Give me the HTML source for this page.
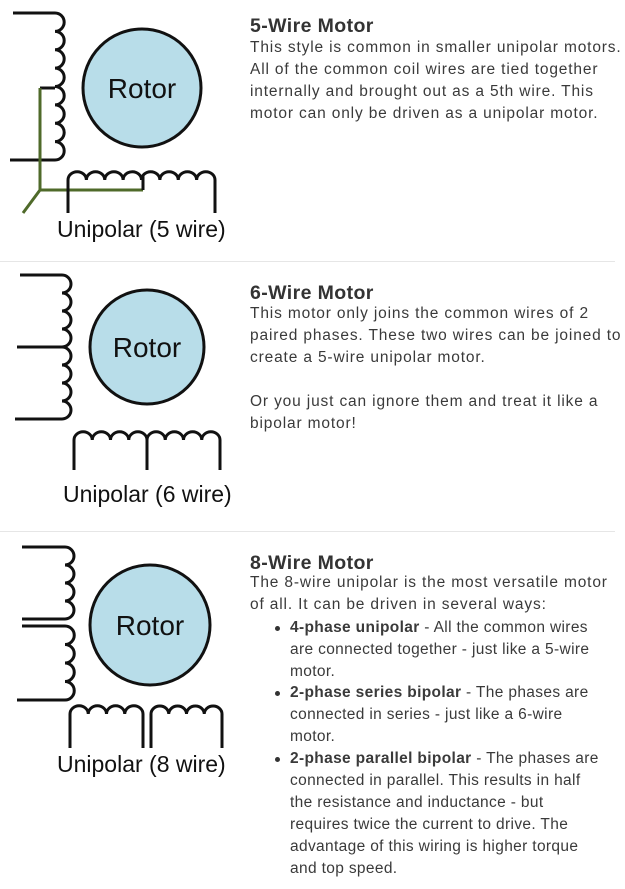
<!DOCTYPE html>
<html><head><meta charset="utf-8">
<style>
html,body{margin:0;padding:0;background:#fff;width:625px;height:889px;overflow:hidden;position:relative}
.t{position:absolute;left:250px;font-family:"Liberation Sans",sans-serif;color:#3a3a3a;white-space:nowrap}
.h{font-size:19.5px;font-weight:bold;color:#333;line-height:22px;letter-spacing:0.4px}
.p{font-size:15.5px;line-height:22px;letter-spacing:0.85px}
.li{position:absolute;left:290px;font-family:"Liberation Sans",sans-serif;color:#3a3a3a;font-size:15.5px;line-height:22px;letter-spacing:0.35px;white-space:nowrap}
.li:before{content:"";position:absolute;left:-15px;top:9px;width:5px;height:5px;border-radius:50%;background:#333}
.sep{position:absolute;left:0;width:615px;height:1px;background:#e6e6e6}
svg{position:absolute;left:0;top:0}
</style></head><body>
<svg id="dg" width="625" height="889">
 <g id="wires" fill="none" stroke="#111" stroke-width="3" stroke-linecap="butt"></g>
</svg>

<div class="sep" style="top:261px"></div>
<div class="sep" style="top:531px"></div>

<div class="t h" style="top:15px">5-Wire Motor</div>
<div class="t p" style="top:37px">This style is common in smaller unipolar motors.<br>All of the common coil wires are tied together<br>internally and brought out as a 5th wire. This<br>motor can only be driven as a unipolar motor.</div>

<div class="t h" style="top:282px">6-Wire Motor</div>
<div class="t p" style="top:303px">This motor only joins the common wires of 2<br>paired phases. These two wires can be joined to<br>create a 5-wire unipolar motor.<br><br>Or you just can ignore them and treat it like a<br>bipolar motor!</div>

<div class="t h" style="top:552px">8-Wire Motor</div>
<div class="t p" style="top:572px">The 8-wire unipolar is the most versatile motor<br>of all. It can be driven in several ways:</div>
<div class="li" style="top:617px"><b>4-phase unipolar</b> - All the common wires<br>are connected together - just like a 5-wire<br>motor.</div>
<div class="li" style="top:682px"><b>2-phase series bipolar</b> - The phases are<br>connected in series - just like a 6-wire<br>motor.</div>
<div class="li" style="top:748px"><b>2-phase parallel bipolar</b> - The phases are<br>connected in parallel. This results in half<br>the resistance and inductance - but<br>requires twice the current to drive. The<br>advantage of this wiring is higher torque<br>and top speed.</div>

<script>
var NS="http://www.w3.org/2000/svg";
var svg=document.getElementById('dg');
var g=document.getElementById('wires');
function path(d,name,color){
  var p=document.createElementNS(NS,'path');
  p.setAttribute('d',d);
  if(color){p.setAttribute('stroke',color);}
  
  
  g.appendChild(p);
}
function vcoil(x,y0,y1,n){var h=(y1-y0)/n,d='M'+x+' '+y0;for(var i=0;i<n;i++){d+=' a'+(h/2)+' '+(h/2)+' 0 0 1 0 '+h;}return d;}
function hcoil(x0,x1,y,n){var w=(x1-x0)/n,d='M'+x0+' '+y;for(var i=0;i<n;i++){d+=' a'+(w/2)+' '+(w/2*0.9)+' 0 0 1 '+w+' 0';}return d;}
function rotor(cx,cy,r,name){
  var c=document.createElementNS(NS,'circle');
  c.setAttribute('cx',cx);c.setAttribute('cy',cy);c.setAttribute('r',r);
  c.setAttribute('fill','#b8dde9');c.setAttribute('stroke','#111');c.setAttribute('stroke-width','3');
  
  
  svg.appendChild(c);
  var t=document.createElementNS(NS,'text');
  t.setAttribute('x',cx);t.setAttribute('y',cy+10);t.setAttribute('text-anchor','middle');
  t.setAttribute('font-family','"Liberation Sans",sans-serif');t.setAttribute('font-size','28');t.setAttribute('fill','#111');
  t.textContent='Rotor';
  
  
  svg.appendChild(t);
}
function label(x,y,s,name){
  var t=document.createElementNS(NS,'text');
  t.setAttribute('x',x);t.setAttribute('y',y);
  t.setAttribute('font-family','"Liberation Sans",sans-serif');t.setAttribute('font-size','23');t.setAttribute('fill','#111');
  t.textContent=s;
  
  
  svg.appendChild(t);
}
/* 5-wire */
path('M13 13 H55 '+vcoil(55,13,160,8).slice(('M55 13').length)+' H10','five-wire-vertical-coil');
path('M40 88 H55','five-wire-center-tap');
path('M40 88 V190 L23 213 M40 190 H143','five-wire-common-wire','#4f6a2a');
path('M68 213 V180 '+hcoil(68,215,180,8).slice(('M68 180').length)+' V213','five-wire-horizontal-coil');
path('M143 190 V175','five-wire-bottom-tap');
rotor(142,88,59,'five-wire-rotor');
label(57,237,'Unipolar (5 wire)','five-wire-caption');
/* 6-wire */
path('M20 275 H62 '+vcoil(62,275,419,8).slice(('M62 275').length)+' H15','six-wire-vertical-coil');
path('M17 347 H62','six-wire-center-tap');
path('M74 470 V440 '+hcoil(74,220,440,8).slice(('M74 440').length)+' V470','six-wire-horizontal-coil');
path('M147 470 V440','six-wire-bottom-tap');
rotor(147,347,57,'six-wire-rotor');
label(63,502,'Unipolar (6 wire)','six-wire-caption');
/* 8-wire */
path('M22 547 H65 '+vcoil(65,547,619,4).slice(('M65 547').length)+' H22','eight-wire-upper-coil');
path('M22 626 H65 '+vcoil(65,626,700,4).slice(('M65 626').length)+' H17','eight-wire-lower-coil');
path('M70 748 V714 '+hcoil(70,143,714,4).slice(('M70 714').length)+' V748','eight-wire-left-coil');
path('M151 748 V714 '+hcoil(151,222,714,4).slice(('M151 714').length)+' V748','eight-wire-right-coil');
rotor(150,625,60,'eight-wire-rotor');
label(57,772,'Unipolar (8 wire)','eight-wire-caption');
</script>
</body></html>
